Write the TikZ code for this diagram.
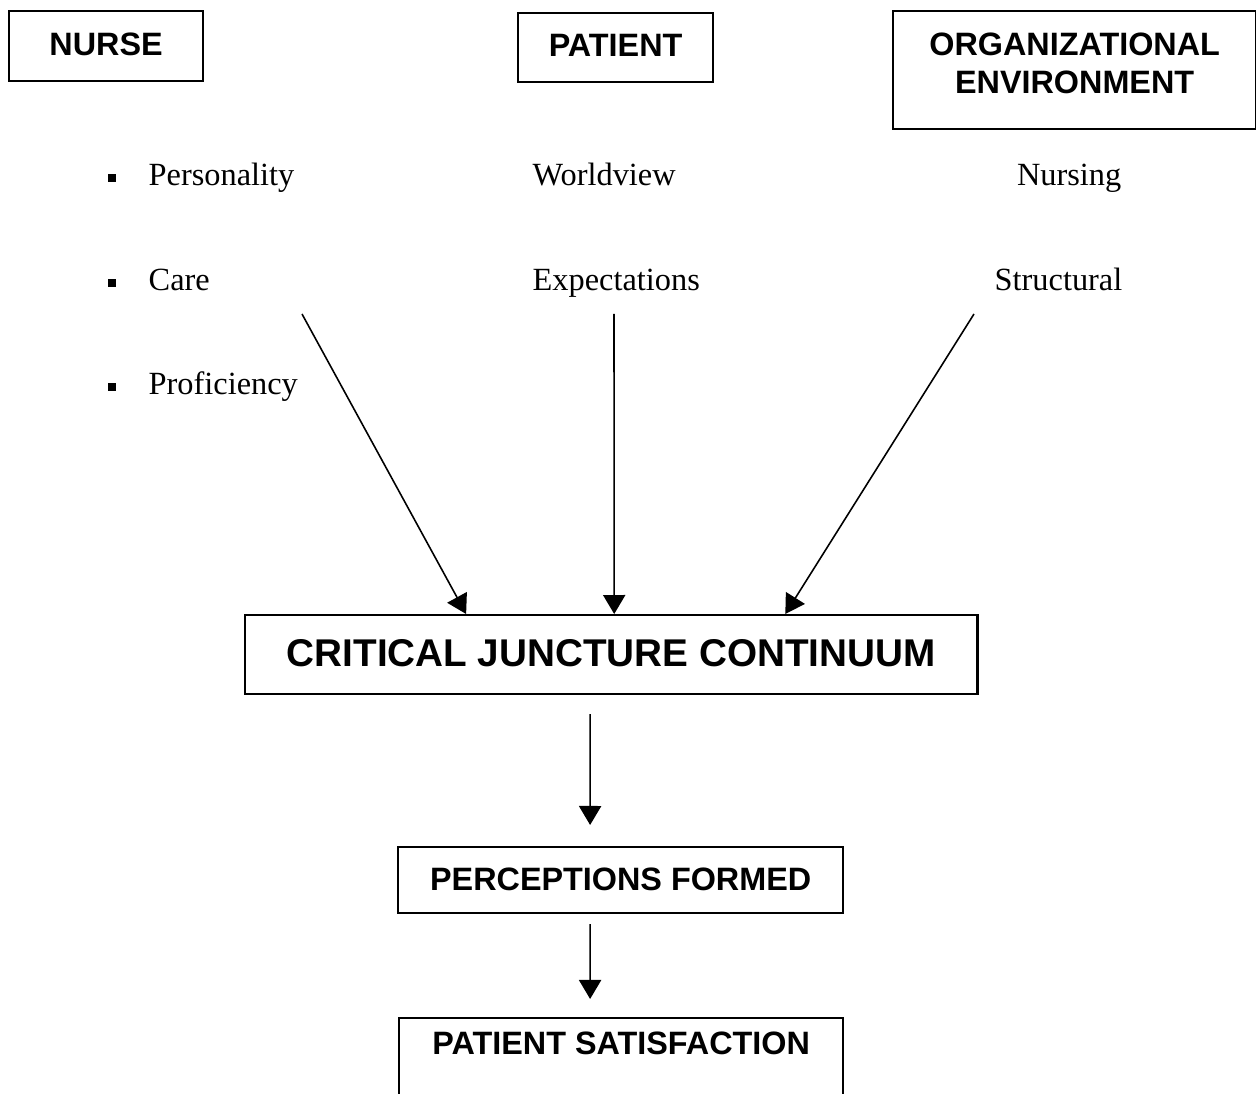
\documentclass[tikz,border=0pt]{standalone}
\usepackage{fontspec}
\setmainfont{Liberation Serif}
\newfontfamily\headfont{Liberation Sans}
\usetikzlibrary{arrows.meta}

\begin{document}
\begin{tikzpicture}[x=0.01cm, y=-0.01cm,
    box/.style={draw, line width=0.6pt, inner sep=0pt, anchor=north west,
        font=\headfont\bfseries\fontsize{9.2}{10.8}\selectfont},
    item/.style={inner sep=0pt, font=\fontsize{9.2}{11}\selectfont},
    bullet/.style={fill=black, minimum size=2.5pt, inner sep=0pt},
    link/.style={line width=0.45pt, -{Triangle[length=5.4pt, width=6.3pt]}}
]
\useasboundingbox (0,0) rectangle (1256,1094);

% Factor boxes
\node[box, minimum width=1.94cm, text height=0.44cm, text depth=0.26cm] (nurse) at (8,10) {NURSE};
\node[box, minimum width=1.95cm, text height=0.43cm, text depth=0.26cm] (patient) at (517,12) {PATIENT};
\node[box, minimum width=3.63cm, align=center, text height=0.82cm, text depth=0.36cm] (org) at (892,10)
    {ORGANIZATIONAL\\ENVIRONMENT};

% Nurse attributes
\node[bullet] (b1) at (112,178) {};
\node[bullet] (b2) at (112,283) {};
\node[bullet] (b3) at (112,387) {};
\node[item, anchor=base west] (personality) at (148,186) {Personality};
\node[item, anchor=base west] (care) at (148,291) {Care};
\node[item, anchor=base west] (proficiency) at (148,395) {Proficiency};

% Patient attributes
\node[item, anchor=base west] (worldview) at (532,186) {Worldview};
\node[item, anchor=base west] (expectations) at (532,291) {Expectations};

% Environment attributes
\node[item, anchor=base east] (nursing) at (1122,186) {Nursing};
\node[item, anchor=base east] (structural) at (1123,291) {Structural};

% Main flow
\node[box, minimum width=7.32cm, text height=0.51cm, text depth=0.28cm,
    font=\headfont\bfseries\fontsize{11}{13}\selectfont] (cjc) at (244,614) {CRITICAL JUNCTURE CONTINUUM};
\node[box, minimum width=4.45cm, text height=0.43cm, text depth=0.23cm] (pf) at (397,846) {PERCEPTIONS FORMED};
\node[box, minimum width=4.44cm, text height=0.36cm, text depth=0.9cm] (ps) at (398,1017) {PATIENT SATISFACTION};

% Arrows into the continuum
\coordinate (carefoot) at (302,314);
\coordinate (expfoot) at (614,314);
\coordinate (strucfoot) at (974,314);
\draw[link] (carefoot) -- ([xshift=2.22cm]cjc.north west);
\draw[link] (expfoot) -- ([xshift=3.70cm]cjc.north west);
\draw[link] (strucfoot) -- ([xshift=5.41cm]cjc.north west);

% Downward arrows
\draw[link] ([xshift=3.46cm, yshift=-0.19cm]cjc.south west) -- ([xshift=1.93cm, yshift=0.21cm]pf.north west);
\draw[link] ([xshift=1.93cm, yshift=-0.10cm]pf.south west) -- ([xshift=1.92cm, yshift=0.18cm]ps.north west);

\end{tikzpicture}
\end{document}
